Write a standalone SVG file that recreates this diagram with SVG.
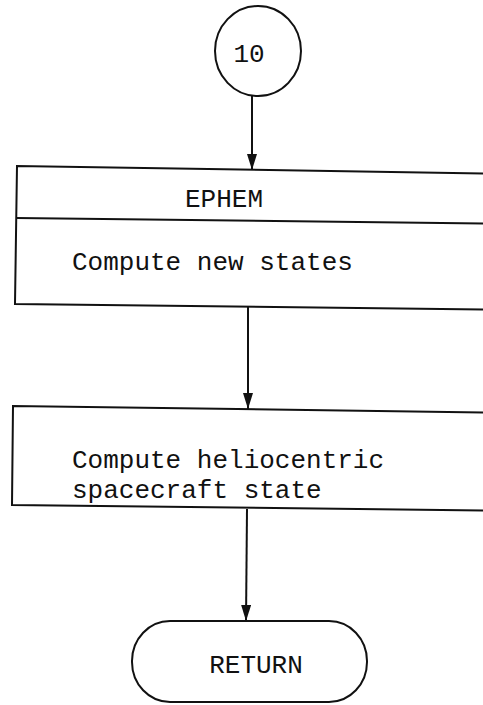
<svg xmlns="http://www.w3.org/2000/svg" width="483" height="705" viewBox="0 0 483 705">
<style>
.s{fill:none;stroke:#111;stroke-width:2}
.t{font-family:"Liberation Mono","DejaVu Sans Mono",monospace;font-size:26px;fill:#111}
.c{stroke:#111;stroke-width:2;fill:none;marker-end:url(#ah)}
</style>
<defs>
<marker id="ah" markerWidth="16" markerHeight="10" refX="16" refY="5" orient="auto" markerUnits="userSpaceOnUse" viewBox="0 0 16 10">
<path d="M0,0 L16,5 L0,10 Z" fill="#111"/>
</marker>
</defs>
<rect width="483" height="705" fill="#fff"/>
<g id="connectors">
<path class="c" d="M252,96 L252,170"/>
<path class="c" d="M248,307 L248,409"/>
<path class="c" d="M247,509 L246,621"/>
</g>
<g id="n10">
<ellipse class="s" cx="258" cy="51" rx="43" ry="45"/>
<text class="t" x="249" y="62" text-anchor="middle">10</text>
</g>
<g id="ephem">
<path class="s" d="M490,173.5 L17,166 L15,304 L490,309.5"/>
<path class="s" d="M16,218 L490,223.5"/>
<text class="t" x="185" y="207">EPHEM</text>
<text class="t" x="72" y="270">Compute new states</text>
</g>
<g id="helio">
<path class="s" d="M490,412.5 L13,406 L12,505 L490,510.5"/>
<text class="t" x="72" y="468">Compute heliocentric</text>
<text class="t" x="72" y="498">spacecraft state</text>
</g>
<g id="ret">
<rect class="s" x="132" y="621" width="235" height="81" rx="38" ry="40"/>
<text class="t" x="256" y="673" text-anchor="middle">RETURN</text>
</g>
</svg>
